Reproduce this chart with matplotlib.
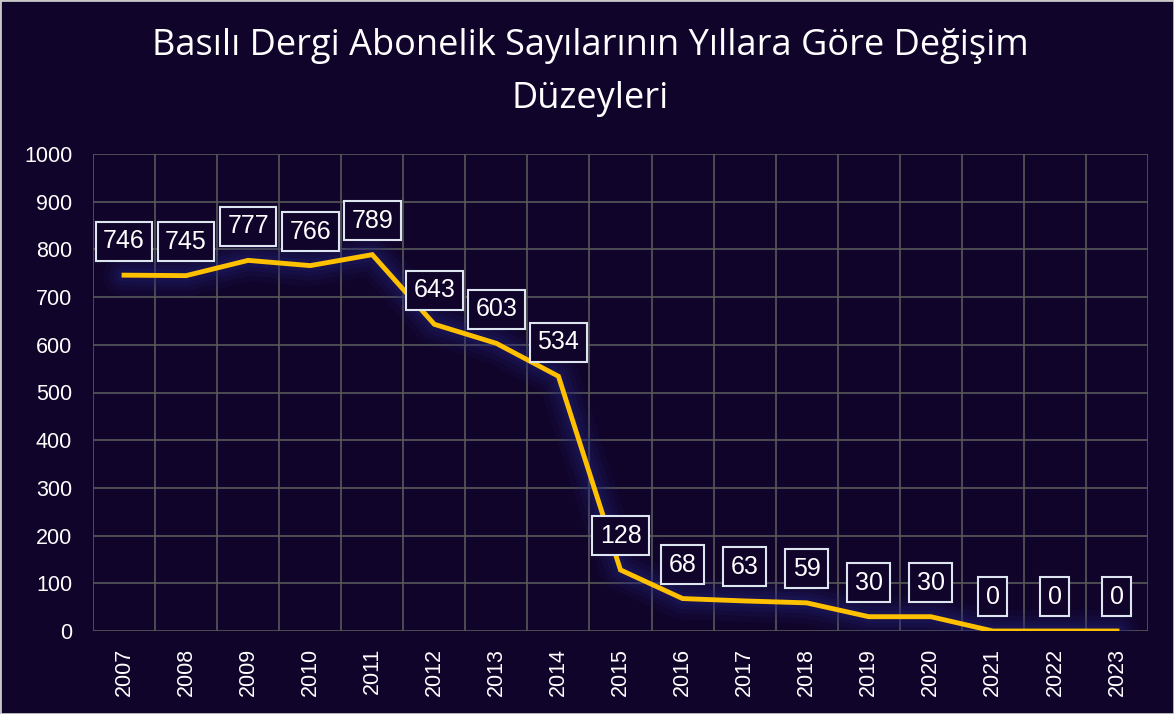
import matplotlib
matplotlib.use('Agg')
import matplotlib.pyplot as plt
import numpy as np

years = ['2007', '2008', '2009', '2010', '2011', '2012', '2013', '2014', '2015',
         '2016', '2017', '2018', '2019', '2020', '2021', '2022', '2023']
aboneler = [746, 745, 777, 766, 789, 643, 603, 534, 128, 68, 63, 59, 30, 30, 0, 0, 0]

bg = '#11042a'
plt.rcParams['font.family'] = ['Liberation Sans', 'DejaVu Sans']

fig = plt.figure(figsize=(11.74, 7.14), dpi=100, facecolor=bg)
fig.patches.append(plt.Rectangle((0, 0), 1, 1, transform=fig.transFigure,
                                 fill=False, edgecolor='#c8c8c8', linewidth=2))
ax = fig.add_axes([93 / 1174, 83 / 714, (1148 - 93) / 1174, (631 - 154) / 714])
ax.set_facecolor(bg)

x = np.arange(len(years))

# glow behind the line
for lw, a in [(30, 0.10), (22, 0.13), (15, 0.16), (9, 0.2)]:
    ax.plot(x, aboneler, color='#22287a', linewidth=lw, alpha=a,
            solid_capstyle='round', solid_joinstyle='round', zorder=2)
ax.plot(x, aboneler, color='#ffc000', linewidth=3.5, zorder=4,
        solid_joinstyle='miter')

for xi, v in zip(x, aboneler):
    ax.annotate(str(v), (xi, v), xytext=(0, 24.5), textcoords='offset points',
                ha='center', va='center', color='white', fontsize=18,
                bbox=dict(boxstyle='square,pad=0.3', facecolor=bg,
                          edgecolor='#dde6f0', linewidth=1.5),
                zorder=5)

ax.set_xlim(-0.5, len(years) - 0.5)
ax.set_ylim(0, 1000)
ax.set_yticks(range(0, 1001, 100))
ax.set_xticks(x)
ax.set_xticklabels(years, rotation=90)
ax.set_xticks(np.arange(-0.5, len(years), 1), minor=True)
ax.grid(True, which='minor', axis='x', color='#595959', linewidth=1.2)
ax.grid(True, which='major', axis='y', color='#595959', linewidth=1.2)
ax.tick_params(axis='both', which='both', length=0, colors='white', labelsize=15.5)
ax.tick_params(axis='y', pad=15)
ax.tick_params(axis='x', pad=12)
for s in ax.spines.values():
    s.set_visible(False)
ax.set_axisbelow(True)

fig.text(0.503, 0.935, 'Basılı Dergi Abonelik Sayılarının Yıllara Göre Değişim',
         ha='center', va='center', color='white', fontsize=26,
         family=['Open Sans', 'DejaVu Sans'])
fig.text(0.503, 0.862, 'Düzeyleri', ha='center', va='center', color='white',
         fontsize=26, family=['Open Sans', 'DejaVu Sans'])

fig.savefig('out.png', dpi=100, facecolor=bg)
